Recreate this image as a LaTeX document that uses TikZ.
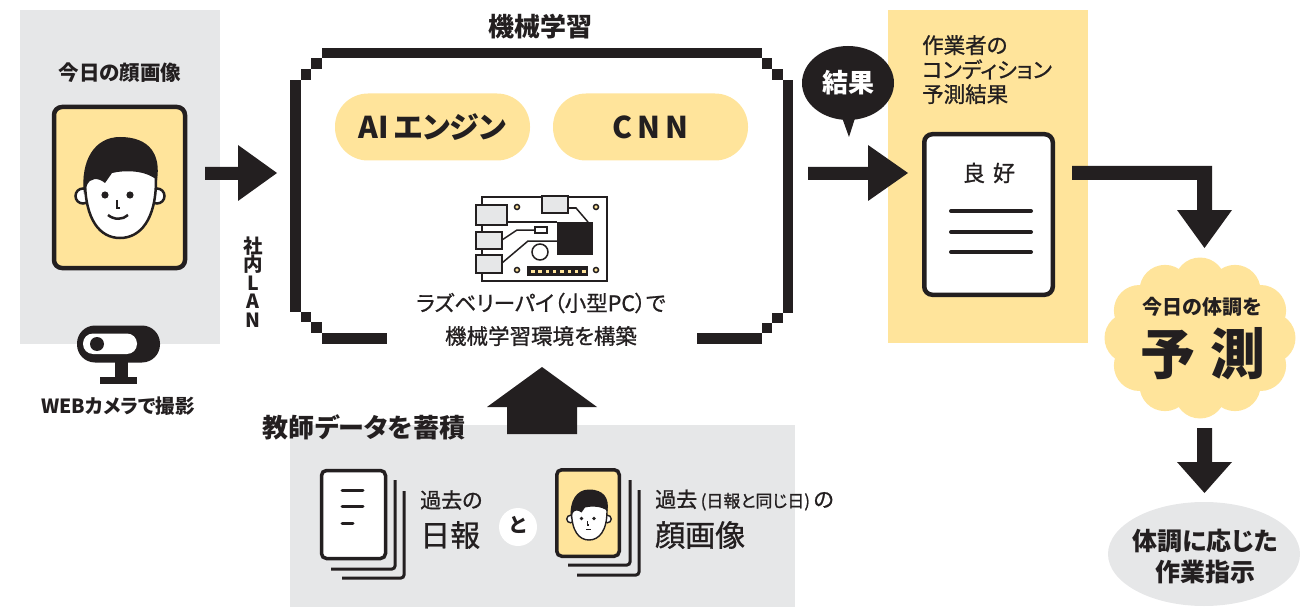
\documentclass[tikz,border=0pt]{standalone}
\usepackage{fontspec}
\setmainfont{Noto Sans CJK JP}[RawFeature=+palt]
\newfontfamily\medfont{Noto Sans CJK JP}[RawFeature=+palt, FakeBold=0.9]
\usetikzlibrary{calc,shapes.geometric}
\definecolor{ink}{HTML}{231F20}
\definecolor{paper}{HTML}{E6E7E8}
\definecolor{butter}{HTML}{FFE49B}
\newcommand\fsz[2]{\fontsize{#1}{#2}\selectfont}
% face: ears, head, hair, eyes, nose; #1 is the mouth
\newcommand\facesketch[1]{%
  \draw[fill=white] (-37,6) circle (7.5);
  \draw[fill=white] (37,6) circle (7.5);
  \draw[fill=white] (-35,-10) .. controls (-35,30) and (-20,48) .. (0,48)
     .. controls (20,48) and (36,30) .. (36,-10)
     .. controls (36,-45) and (-35,-45) .. cycle;
  \fill (-36,4) .. controls (-40,-30) and (-25,-53) .. (0,-53)
     .. controls (30,-53) and (41,-35) .. (37,-10)
     .. controls (25,-20) and (5,-20) .. (-8,-17) -- (-15,-7)
     .. controls (-22,-13) and (-30,-12) .. (-33,-5) -- cycle;
  \fill (-15,5) circle (3.6);
  \fill (10,5) circle (3.6);
  \draw (-3,10) -- (-3,18) -- (0,18);
  #1%
}
\tikzset{
  lbl/.style={text=ink, inner sep=0pt, align=center},
  pill/.style={fill=butter, rounded corners=33pt, minimum width=195pt,
    minimum height=67pt, inner sep=0pt, text=ink, font=\bfseries\fsz{30}{34}},
  card/.style={draw=ink, line width=4.5pt, rounded corners=8pt, inner sep=0pt},
  stackline/.style={draw=ink, line width=3pt, rounded corners=3pt},
  docline/.style={draw=ink, line width=4pt, line cap=round},
  port/.style={draw=ink, line width=1.5pt, fill=paper},
}
\begin{document}
\begin{tikzpicture}[x=1pt,y=-1pt]
\useasboundingbox (0,0) rectangle (1302,607);

% ---------- panels ----------
\node[fill=paper, minimum width=200pt, minimum height=334pt, inner sep=0, anchor=north west] (todaypanel) at (20,10) {};
\node[fill=butter, minimum width=200pt, minimum height=333pt, inner sep=0, anchor=north west] (resultpanel) at (888,10) {};
\node[fill=paper, minimum width=505pt, minimum height=182pt, inner sep=0, anchor=north west] (teachpanel) at (290,425) {};

% ---------- today's face ----------
\node[lbl, font=\bfseries\fsz{20.5}{24}] (todaytitle) at (120,73) {今日の顔画像};
\node[card, fill=butter, minimum width=131pt, minimum height=161pt] (facecard) at (119.5,187.5) {};
\begin{scope}[shift={(120,190)}, line width=2.5pt, color=ink]
  \facesketch{\draw (-12,25) .. controls (-6,30) and (3,30) .. (8,25);}
\end{scope}

% ---------- web camera ----------
\node[fill=ink, rounded corners=18pt, minimum width=83pt, minimum height=37pt, inner sep=0] (webcam) at (118.5,344) {};
\fill[white, rounded corners=10pt] (83,333.5) rectangle (137,354);
\fill[ink] (97,344) circle (7);
\fill[ink] (115,362) rectangle (128,378);
\fill[ink] (100,377) rectangle (137,384);
\node[lbl, font=\bfseries\fsz{19.5}{23}] (camlabel) at (118,406) {WEBカメラで撮影};

% ---------- LAN ----------
\node[lbl, font=\bfseries\fsz{19.5}{18.6}] (lan) at (253,282) {社\\内\\L\\A\\N};

% ---------- machine learning frame ----------
\node[lbl, font=\bfseries\fsz{26}{30}] (mltitle) at (540,27) {機械学習};
\fill[ink] (322,48) rectangle (762,58);
\fill[ink] (311,58) rectangle (322,69);
\fill[ink] (301,69) rectangle (311,80);
\fill[ink] (290,80) rectangle (301,312);
\fill[ink] (301,312) rectangle (311,322);
\fill[ink] (311,322) rectangle (322,333);
\fill[ink] (322,333) rectangle (387,344);
\fill[ink] (762,58) rectangle (772,69);
\fill[ink] (772,69) rectangle (783,80);
\fill[ink] (783,80) rectangle (793,313);
\fill[ink] (772,313) rectangle (783,323);
\fill[ink] (762,323) rectangle (772,333);
\fill[ink] (697,333) rectangle (762,344);
\coordinate (mlwest) at (290,173);
\coordinate (mleast) at (793,173);
\coordinate (mlsouth) at (542,344);

\node[pill] (aiengine) at (432.5,127) {AI\,エンジン};
\node[pill] (cnn) at (650.5,127) {C\,N\,N};

% ---------- raspberry pi board ----------
\begin{scope}[line width=1.5pt]
  \draw[ink, fill=white] (482,197) rectangle (607,281);
  \draw[port] (542,196) rectangle (568,213);
  \draw[port] (476,205) rectangle (507,225);
  \draw[port] (476,232) rectangle (502,249);
  \draw[port] (476,255) rectangle (502,273);
  \fill[ink] (557,222) rectangle (593,255);
  \draw[ink] (568,208) -- (576,208) -- (588,222);
  \draw[ink] (507,222) -- (557,222);
  \draw[ink] (502,240) -- (517,230) -- (535,230);
  \draw[ink, fill=white] (535,227) rectangle (547,233);
  \draw[ink] (502,263) -- (528,241) -- (557,241);
  \draw[ink, fill=white] (540,252) circle (8);
  \fill[ink] (527,266) rectangle (588,276);
  \foreach \i in {0,...,7} \fill[butter] (531+\i*7.3,269.5) rectangle ++(3.5,3);
  \foreach \p in {(517,207),(596,207),(517,270),(596,270)} \draw[ink, fill=butter] \p circle (2.5);
\end{scope}
\coordinate (board) at (541,240);
\node[lbl, font=\medfont\fsz{21.5}{24}] (boardtext1) at (541,303) {ラズベリーパイ（小型PC）で};
\node[lbl, font=\medfont\fsz{21.5}{24}] (boardtext2) at (541,336) {機械学習環境を構築};

% ---------- arrows ----------
\fill[ink] (205,167) -- (238,167) -- (238,145) -- (277,173) -- (238,201) -- (238,180) -- (205,180) -- cycle;
\fill[ink] (808,167) -- (868,167) -- (868,145) -- (908,173) -- (868,201) -- (868,180) -- (808,180) -- cycle;
\fill[ink] (1072,166) -- (1212,166) -- (1212,210) -- (1232,210) -- (1204.5,248) -- (1177,210) -- (1197,210) -- (1197,180) -- (1072,180) -- cycle;
\fill[ink] (1197,428) -- (1212,428) -- (1212,462) -- (1232,462) -- (1204.5,493) -- (1177,462) -- (1197,462) -- cycle;
\fill[ink] (507,434) -- (507,407) -- (487,407) -- (542,367) -- (597,407) -- (577,407) -- (577,434) -- cycle;

% ---------- result bubble ----------
\fill[ink] (848,83) ellipse (46 and 37);
\fill[ink] (840,112) -- (857,112) -- (849,137) -- cycle;
\node[lbl, text=white, font=\bfseries\fsz{26}{30}] (bubble) at (848,83) {結果};

% ---------- prediction result ----------
\node[lbl, align=left, anchor=north west, font=\medfont\fsz{21.5}{24.5}] (resulttitle) at (922,35) {作業者の\\コンディション\\予測結果};
\node[card, fill=white, minimum width=128.5pt, minimum height=160.5pt] (report) at (988.5,214.5) {};
\node[lbl, font=\medfont\fsz{22}{26}] (good) at (989,173) {良\hspace{8pt}好};
\draw[docline] (951,211) -- (1031,211);
\draw[docline] (951,232) -- (1031,232);
\draw[docline] (951,252) -- (1031,252);

% ---------- prediction cloud ----------
\begin{scope}[butter]
  \fill (1200,338) ellipse (72 and 56);
  \foreach \a in {0,30,...,330} \fill ({1200+70*cos(\a)},{338+55*sin(\a)}) circle (25.5);
\end{scope}
\node[lbl, font=\bfseries\fsz{20}{24}] (predtop) at (1202,307) {今日の体調を};
\node[lbl, font=\bfseries\fsz{55}{60}] (predict) at (1203,354) {予\hspace{16pt}測};

% ---------- instruction ----------
\node[fill=paper, ellipse, minimum width=192pt, minimum height=104pt, inner sep=0] (instr) at (1204,554) {};
\node[lbl, font=\bfseries\fsz{25}{31}] (instrtext) at (1205,557) {体調に応じた\\作業指示};

% ---------- teacher data ----------
\node[lbl, font=\bfseries\fsz{26}{30}] (teachtitle) at (364,427) {教師データを蓄積};

% past reports
\draw[stackline] (404,491) -- (404,578) -- (342,578);
\draw[stackline] (395,480) -- (395,569) -- (331,569);
\node[card, line width=3.5pt, rounded corners=5pt, fill=white, minimum width=64pt, minimum height=88pt] (pastdoc) at (353.5,514.5) {};
\draw[ink, line width=3pt, line cap=round] (342,490) -- (363,490);
\draw[ink, line width=3pt, line cap=round] (342,506) -- (363,506);
\draw[ink, line width=3pt, line cap=round] (342,523) -- (353,523);
\node[lbl, anchor=west, font=\medfont\fsz{21}{24}] (pasttext1) at (420,500) {過去の};
\node[lbl, anchor=west, font=\medfont\fsz{30}{34}] (pasttext2) at (420,535) {日報};

\fill[white] (518,527) circle (19);
\node[lbl, font=\bfseries\fsz{20}{24}] (andmark) at (518,525) {と};

% past face images
\draw[stackline] (639,490) -- (639,575) -- (577,575);
\draw[stackline] (630,480) -- (630,565) -- (568,565);
\node[card, line width=3.5pt, rounded corners=5pt, fill=butter, minimum width=62.5pt, minimum height=86.5pt] (pastface) at (588,513) {};
\begin{scope}[shift={(589,516)}, scale=0.5, line width=1.4pt, color=ink]
  \facesketch{\draw (-6,27) -- (4,27);}
\end{scope}
\node[lbl, anchor=west, font=\medfont\fsz{21}{24}] (pastface1) at (655,500) {過去\,{\fsz{17}{20}(日報と同じ日)}\,の};
\node[lbl, anchor=west, font=\medfont\fsz{30}{34}] (pastface2) at (655,535) {顔画像};

\end{tikzpicture}
\end{document}
